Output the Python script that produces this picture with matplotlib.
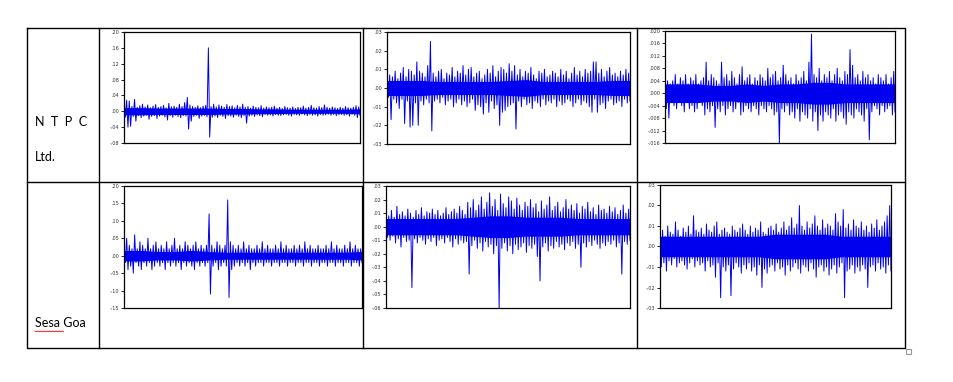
import numpy as np
from matplotlib import pyplot as plt
from matplotlib.ticker import FuncFormatter

plt.close("all")

# Row labels
row_names = ["N  T  P  C", "Sesa Goa"]

# Envelope values (upper / lower swing per step)
# panel 1: NTPC col 1, units of 0.01
hi1 = [1.5,2.8,2.6,1.2,3.0,1.0,1.4,1.8,1.1,1.6,0.9,1.3,1.7,1.0,1.2,1.5,0.9,2.0,1.1,1.3,
       1.0,1.8,1.2,2.2,3.5,1.6,1.2,1.0,1.4,0.9,1.3,1.5,16.0,1.2,1.8,1.1,1.6,1.3,1.0,1.7,
       1.2,1.4,0.9,1.5,1.1,1.8,1.0,1.2,0.8,1.3,1.0,0.9,1.4,0.8,1.1,0.9,1.0,1.3,0.8,1.0,
       0.7,1.2,0.9,0.8,1.1,0.7,1.0,0.9,1.3,0.8,1.0,1.5,0.9,0.8,1.2,0.9,1.6,1.0,0.8,1.1,
       0.9,0.7,1.0,0.8,1.2,0.9,0.8,1.0,1.4,1.1]
lo1 = [-1.5,-4.0,-3.8,-1.3,-2.5,-1.1,-1.6,-1.2,-1.0,-2.0,-1.3,-1.1,-1.8,-1.2,-1.0,-1.4,-2.2,-1.1,-1.5,-1.0,
       -1.3,-1.6,-1.1,-1.2,-4.5,-2.5,-1.3,-1.0,-1.8,-1.2,-1.0,-1.4,-6.5,-1.5,-1.2,-1.6,-1.0,-1.3,-1.8,-1.1,
       -1.2,-1.5,-1.0,-1.3,-1.6,-1.1,-3.0,-1.2,-1.0,-1.3,-0.9,-1.1,-1.4,-0.8,-1.0,-0.9,-1.2,-0.8,-1.0,-1.1,
       -0.9,-0.8,-1.0,-1.2,-0.8,-0.9,-1.0,-0.7,-0.9,-1.1,-0.8,-1.0,-0.9,-1.2,-0.8,-1.0,-0.9,-0.7,-1.0,-0.8,
       -1.1,-0.9,-0.8,-1.0,-0.9,-1.2,-0.8,-1.0,-1.6,-1.0]
core1 = [0.9,0.9,0.8,0.8,0.8,0.8,0.7,0.7,0.6,0.6,0.5,0.5,0.5,0.5,0.6]

# panel 2: NTPC col 2, units of 0.001
hi2 = [10,7,6,9,5,8,11,6,10,9,7,14,9,8,6,12,25,8,6,9,10,5,8,7,11,6,9,8,12,7,
       10,11,6,8,9,5,7,10,8,12,6,9,11,10,8,13,9,12,7,10,6,9,8,11,7,5,9,8,10,6,
       7,9,8,6,10,7,9,5,8,11,7,9,6,10,8,9,14,14,8,10,6,9,11,7,8,6,9,7,10,8]
lo2 = [-5,-17,-6,-8,-11,-6,-19,-7,-21,-20,-8,-20,-7,-9,-6,-8,-23,-7,-6,-8,
       -5,-9,-7,-6,-10,-8,-6,-9,-7,-10,-8,-6,-12,-9,-10,-14,-8,-13,-7,-11,
       -9,-20,-13,-12,-10,-9,-8,-22,-7,-10,-6,-9,-8,-11,-7,-8,-10,-6,-9,-7,
       -8,-6,-10,-7,-9,-8,-6,-7,-10,-8,-6,-9,-7,-8,-10,-13,-6,-13,-9,-8,
       -11,-7,-6,-9,-8,-7,-10,-6,-8,-7]
core2 = [4,4,4,3.5,3.5,3.5,3.5,4,4.5,3.5,3.5,3.5,3.5,4,4]

# panel 3: NTPC col 3, units of 0.001
hi3 = [5,4,3,4,6,3,5,4,6,3,5,4,6,3,4,5,10,4,6,5,4,3,10,5,6,4,7,5,3,6,
       8.5,4,5,6,3,5,4,6,5,4,8,5,6,7,4,5,9,6,4,5,3,6,4,5,7,4,10,19,6,5,
       8,4,6,5,7,4,6,8,5,4,7,6,14,9,5,6,4,7,5,6,4,5,3,6,5,4,6,3,5,7]
lo3 = [-5,-8,-3,-4,-5,-3,-4,-6,-3,-5,-4,-6,-5,-3,-4,-7,-5,-6,-4,-11,
       -5,-6,-4,-7,-5,-4,-6,-5,-3,-7,-6,-4,-5,-6,-4,-5,-7,-4,-5,-6,
       -4,-5,-7,-6,-16,-5,-6,-4,-7,-6,-8,-5,-9,-6,-7,-8,-5,-9,-6,-12,
       -7,-9,-6,-7,-8,-5,-9,-7,-6,-8,-10,-6,-7,-8,-5,-6,-7,-9,-5,-15,
       -6,-4,-5,-7,-4,-6,-5,-4,-7,-6]
core3 = [3,3,3,2.5,2.5,3,2.5,3,3,3.5,3.5,3,3,3,3]

# panel 4: Sesa Goa col 1, units of 0.01
hi4 = [2,5,3,2,6,2,4,3,2,5,2,3,4,2,3,2,4,2,3,5,2,3,2,4,3,2,3,4,2,3,
       2,3,12,3,2,4,3,2,3,16,4,3,2,3,2,4,2,3,2,2,3,2,4,2,3,2,2,3,2,4,
       2,3,2,2,3,2,3,2,4,2,3,2,2,3,2,2,3,2,4,2,3,2,2,3,2,4,2,3,2,2]
lo4 = [-2,-4,-3,-5,-2,-3,-4,-2,-3,-2,-4,-3,-2,-3,-2,-4,-2,-3,-2,-3,
       -2,-4,-2,-3,-2,-3,-4,-2,-3,-2,-3,-2,-11,-3,-2,-4,-3,-2,-3,-12,
       -4,-3,-2,-3,-2,-3,-2,-4,-2,-3,-2,-2,-3,-2,-2,-3,-2,-2,-3,-2,
       -2,-3,-2,-2,-3,-2,-2,-3,-2,-2,-3,-2,-2,-3,-2,-2,-3,-2,-2,-3,
       -2,-2,-3,-2,-2,-3,-2,-2,-3,-2]
core4 = [1.5,1.5,1.2,1.2,1.5,1.2,1.0,1.0,1.0,1.0,1.0,1.0,1.0,1.0,1.2]

# panel 5: Sesa Goa col 2, units of 0.001
hi5 = [10,8,12,7,15,9,11,8,13,10,7,12,9,14,8,11,10,13,9,12,8,10,14,9,11,13,10,15,12,9,
       18,14,20,12,16,22,13,18,25,15,20,12,24,17,14,22,19,13,21,16,12,18,15,20,14,17,11,19,13,16,
       22,12,15,18,11,14,20,13,16,12,17,10,15,13,18,11,14,9,16,12,13,10,15,11,14,9,12,16,10,13]
lo5 = [-8,-10,-7,-12,-9,-15,-8,-11,-10,-45,-9,-12,-8,-10,-13,-9,-11,-8,-14,-10,
       -9,-12,-8,-11,-15,-9,-13,-10,-12,-11,-35,-14,-10,-16,-12,-18,-11,-15,-13,-20,
       -14,-60,-16,-12,-18,-14,-20,-13,-17,-15,-12,-19,-14,-16,-13,-22,-40,-15,-12,-18,
       -14,-16,-11,-15,-13,-17,-12,-14,-11,-16,-13,-30,-12,-15,-11,-14,-10,-13,-16,-12,
       -14,-11,-13,-10,-15,-12,-35,-11,-13,-10]
core5 = [6,6,6,6,6,7,8,8,7,7,7,6,6,6,6]

# panel 6: Sesa Goa col 3, units of 0.001
hi6 = [6,8,5,10,7,6,12,8,5,9,7,10,6,15,8,7,9,6,11,8,7,10,12,6,8,9,7,6,10,8,
       7,9,11,8,6,10,7,9,8,12,7,6,9,10,8,11,7,9,12,8,10,14,9,11,20,10,8,12,9,11,
       15,10,8,13,9,11,10,8,16,12,10,18,9,11,8,13,10,9,12,8,10,7,11,9,13,8,10,12,15,20]
lo6 = [-10,-8,-12,-7,-9,-6,-10,-8,-7,-9,-11,-8,-6,-10,-7,-9,-8,-12,-7,-10,
       -9,-15,-8,-25,-10,-12,-9,-24,-11,-8,-10,-13,-9,-11,-8,-12,-10,-14,-9,-20,
       -11,-13,-10,-9,-12,-8,-11,-10,-14,-9,-12,-10,-8,-11,-13,-9,-10,-12,-8,-11,
       -15,-10,-9,-12,-10,-14,-11,-9,-13,-10,-8,-25,-12,-11,-9,-13,-10,-12,-9,-11,
       -20,-10,-9,-12,-8,-11,-10,-13,-9,-12]
core6 = [5,5,5,5,5,5,5,6,6,6,6,5,5,5,5]

# y ranges and tick steps per panel
panels = [
    (hi1, lo1, core1, 0.01, -0.08, 0.20, 0.04, 2),
    (hi2, lo2, core2, 0.001, -0.03, 0.03, 0.01, 2),
    (hi3, lo3, core3, 0.001, -0.016, 0.020, 0.004, 3),
    (hi4, lo4, core4, 0.01, -0.15, 0.20, 0.05, 2),
    (hi5, lo5, core5, 0.001, -0.06, 0.03, 0.01, 2),
    (hi6, lo6, core6, 0.001, -0.03, 0.03, 0.01, 2),
]

# axes boxes in pixels: left, top, right, bottom
boxes = [
    (124, 32, 360, 143), (387, 32, 630, 144), (665, 31, 895, 143),
    (124, 186, 362, 308), (386, 186, 630, 308), (660, 185, 891, 308),
]

W, H = 954, 382
fig = plt.figure(figsize=(W / 100, H / 100), dpi=100)

# table grid
grid = fig.add_axes([0, 0, 1, 1])
grid.set_xlim(0, W)
grid.set_ylim(H, 0)
grid.axis("off")
lk = dict(color="black", lw=1.0)
grid.plot([27, 905, 905, 27, 27], [28, 28, 348, 348, 28], **lk)
grid.plot([27, 905], [182, 182], **lk)
for xc in [99, 363, 637]:
    grid.plot([xc, xc], [28, 348], **lk)
grid.plot([906, 911, 911, 906, 906], [349, 349, 354, 354, 349], color="#999999", lw=0.8)

grid.text(35, 122, row_names[0], fontsize=9, family="Lato", va="center")
grid.text(35, 157, "Ltd.", fontsize=9, family="Lato", va="center")
grid.text(35, 323, row_names[1], fontsize=9, family="Lato", va="center")
# spell-check squiggle under "Sesa"
wx = np.arange(35, 65, 1.5)
grid.plot(wx, 331 + 0.8 * (np.arange(len(wx)) % 2), color="red", lw=0.6)


def fmt(dec):
    def f(v, pos):
        s = f"{v:.{dec}f}"
        if s.startswith("-0"):
            s = "-" + s[2:]
        elif s.startswith("0"):
            s = s[1:]
        return s
    return f


for (hi, lo, core, unit, y0, y1, step, dec), (l, t, r, b) in zip(panels, boxes):
    ax = fig.add_axes([l / W, 1 - b / H, (r - l) / W, (b - t) / H])
    n = min(len(hi), len(lo))
    y = np.column_stack([hi[:n], lo[:n]]).ravel() * unit
    x = np.arange(len(y))
    c = np.array(core) * unit
    cx = np.linspace(0, len(y) - 1, len(c))
    ax.fill_between(cx, -c, c, color="#0000ee", lw=0)
    ax.plot(x, y, color="#0000ee", lw=0.7)
    ax.set_xlim(0, len(y) - 1)
    ax.set_ylim(y0, y1)
    ax.set_yticks(np.arange(y0, y1 + step / 2, step))
    ax.yaxis.set_major_formatter(FuncFormatter(fmt(dec)))
    ax.set_xticks([])
    ax.tick_params(axis="y", labelsize=3.5, length=2, width=0.6, pad=1.5,
                   labelcolor="#333333")
    for sp in ax.spines.values():
        sp.set_linewidth(0.9)

fig.savefig("out.png", dpi=100)
